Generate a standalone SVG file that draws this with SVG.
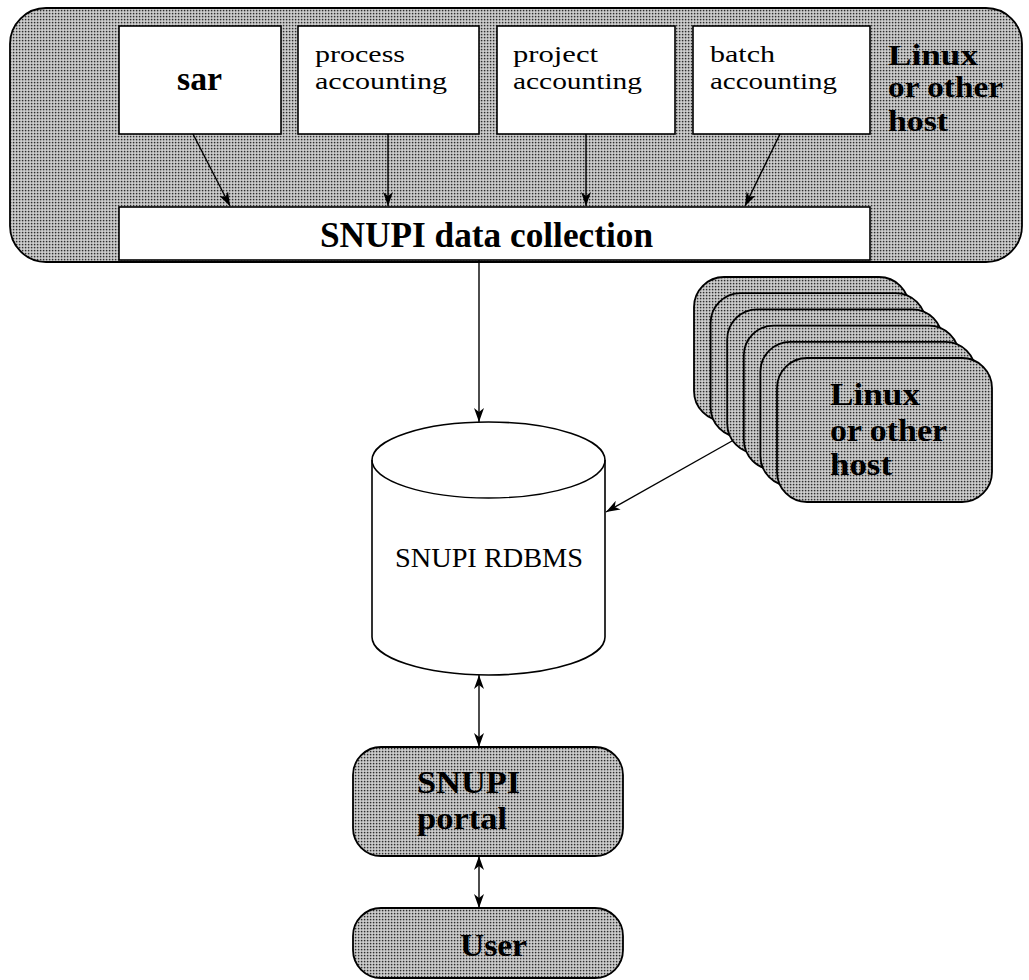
<svg xmlns="http://www.w3.org/2000/svg" width="1029" height="980" viewBox="0 0 1029 980">
<defs>
<pattern id="dots" width="3" height="3" patternUnits="userSpaceOnUse">
<rect width="3" height="3" fill="#d6d6d6"/>
<rect x="0.8" y="0.8" width="1.6" height="1.6" fill="#2e2e2e"/>
</pattern>
<marker id="ah" viewBox="0 0 14 10" refX="14" refY="5" markerWidth="14" markerHeight="10" markerUnits="userSpaceOnUse" orient="auto-start-reverse">
<path d="M0,0 L14,5 L0,10 L4,5 z" fill="#000"/>
</marker>
<style>
.shade{fill:url(#dots);stroke:#000;stroke-width:1.8}
.box{fill:#fff;stroke:#000;stroke-width:1.6}
.bold{font-family:"Liberation Serif","Times New Roman",serif;font-weight:bold;fill:#000}
.reg{font-family:"Liberation Serif","Times New Roman",serif;fill:#000}
.conn{stroke:#000;stroke-width:1.4;fill:none}
</style>
</defs>

<g id="host-main">
<rect class="shade" x="10" y="8" width="1012" height="254" rx="36" ry="36"/>
<text class="bold" font-size="30" x="888" y="65" textLength="90" lengthAdjust="spacingAndGlyphs">Linux</text>
<text class="bold" font-size="30" x="888" y="97" textLength="115" lengthAdjust="spacingAndGlyphs">or other</text>
<text class="bold" font-size="30" x="888" y="131" textLength="60" lengthAdjust="spacingAndGlyphs">host</text>
</g>

<g id="sar">
<rect class="box" x="119" y="26" width="162" height="108"/>
<text class="bold" font-size="34" x="177" y="90" textLength="45" lengthAdjust="spacingAndGlyphs">sar</text>
</g>

<g id="process-accounting">
<rect class="box" x="298" y="26" width="181" height="108"/>
<text class="reg" font-size="23" x="315" y="62" textLength="90" lengthAdjust="spacingAndGlyphs">process</text>
<text class="reg" font-size="23" x="315" y="89" textLength="132" lengthAdjust="spacingAndGlyphs">accounting</text>
</g>

<g id="project-accounting">
<rect class="box" x="497" y="26" width="178" height="108"/>
<text class="reg" font-size="23" x="513" y="62" textLength="85" lengthAdjust="spacingAndGlyphs">project</text>
<text class="reg" font-size="23" x="513" y="89" textLength="129" lengthAdjust="spacingAndGlyphs">accounting</text>
</g>

<g id="batch-accounting">
<rect class="box" x="693" y="26" width="177" height="108"/>
<text class="reg" font-size="23" x="710" y="62" textLength="65" lengthAdjust="spacingAndGlyphs">batch</text>
<text class="reg" font-size="23" x="710" y="89" textLength="127" lengthAdjust="spacingAndGlyphs">accounting</text>
</g>

<g id="data-collection">
<rect class="box" x="119" y="207" width="751" height="53"/>
<text class="bold" font-size="35" x="320" y="247" textLength="333" lengthAdjust="spacingAndGlyphs">SNUPI data collection</text>
</g>

<g id="host-stack">
<rect class="shade" x="694" y="277" width="215" height="144" rx="30" ry="30"/>
<rect class="shade" x="710.6" y="293.2" width="215" height="144" rx="30" ry="30"/>
<rect class="shade" x="727.2" y="309.4" width="215" height="144" rx="30" ry="30"/>
<rect class="shade" x="743.8" y="325.6" width="215" height="144" rx="30" ry="30"/>
<rect class="shade" x="760.4" y="341.8" width="215" height="144" rx="30" ry="30"/>
<rect class="shade" x="777" y="358" width="215" height="144" rx="30" ry="30"/>
<text class="bold" font-size="31" x="830" y="405" textLength="90" lengthAdjust="spacingAndGlyphs">Linux</text>
<text class="bold" font-size="31" x="830" y="441" textLength="117" lengthAdjust="spacingAndGlyphs">or other</text>
<text class="bold" font-size="31" x="830" y="475" textLength="62" lengthAdjust="spacingAndGlyphs">host</text>
</g>

<g id="rdbms">
<path class="box" d="M372,460 L372,637 A116.5,38 0 0 0 605,637 L605,460 A116.5,38 0 0 0 372,460 Z"/>
<path class="conn" d="M372,460 A116.5,38 0 0 0 605,460" stroke-width="1.6"/>
<text class="reg" font-size="27" x="489" y="567" text-anchor="middle" textLength="188" lengthAdjust="spacingAndGlyphs">SNUPI RDBMS</text>
</g>

<g id="portal">
<rect class="shade" x="353" y="747" width="270" height="109" rx="28" ry="28"/>
<text class="bold" font-size="31" x="417" y="793" textLength="103" lengthAdjust="spacingAndGlyphs">SNUPI</text>
<text class="bold" font-size="31" x="417" y="829" textLength="90" lengthAdjust="spacingAndGlyphs">portal</text>
</g>

<g id="user">
<rect class="shade" x="353" y="908" width="270" height="70" rx="28" ry="28"/>
<text class="bold" font-size="31" x="460" y="956" textLength="67" lengthAdjust="spacingAndGlyphs">User</text>
</g>

<g id="connectors">
<line class="conn" x1="193" y1="134" x2="230" y2="206" marker-end="url(#ah)"/>
<line class="conn" x1="388" y1="134" x2="388" y2="206" marker-end="url(#ah)"/>
<line class="conn" x1="586" y1="134" x2="586" y2="206" marker-end="url(#ah)"/>
<line class="conn" x1="780" y1="134" x2="745" y2="206" marker-end="url(#ah)"/>
<line class="conn" x1="479" y1="260" x2="479" y2="422" marker-end="url(#ah)"/>
<line class="conn" x1="732" y1="441" x2="606" y2="512" marker-end="url(#ah)"/>
<line class="conn" x1="479" y1="675" x2="479" y2="747" marker-start="url(#ah)" marker-end="url(#ah)"/>
<line class="conn" x1="479" y1="856" x2="479" y2="908" marker-start="url(#ah)" marker-end="url(#ah)"/>
</g>
</svg>
